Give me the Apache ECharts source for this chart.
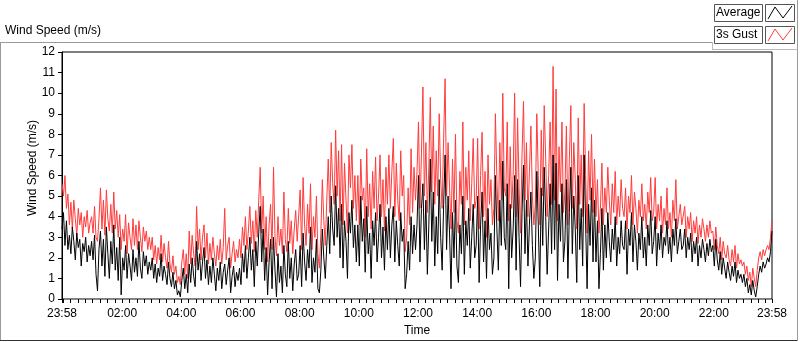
<!DOCTYPE html>
<html>
<head>
<meta charset="utf-8">
<script src="https://cdn.jsdelivr.net/npm/echarts@6/dist/echarts.min.js"></script>
<style>
  html, body { margin: 0; padding: 0; background: #fff; }
  #chart { width: 800px; height: 342px; }
</style>
</head>
<body>
<div id="chart"></div>
<script>
// one sample every 3 minutes, starting at 23:58
const stepMin = 3;
const startClock = 23 * 60 + 58;

// 3s gust (m/s), one row per hour
const gustSpeed = [
  5.6, 5.0, 6.0, 4.4, 5.1, 3.6, 4.7, 3.4, 4.8, 3.9, 3.1, 4.4, 3.6, 4.2, 3.0, 4.0, 3.5, 4.3, 3.2, 3.7,
  4.0, 3.2, 4.5, 3.0, 2.8, 3.9, 5.4, 3.4, 4.8, 3.1, 5.3, 3.9, 3.3, 4.6, 3.2, 5.2, 3.4, 4.3, 3.0, 4.1,
  2.4, 3.4, 2.8, 4.1, 2.2, 3.7, 3.0, 2.4, 3.9, 2.6, 3.6, 2.4, 3.8, 3.0, 2.3, 3.5, 2.8, 3.3, 2.4, 3.0,
  2.4, 3.0, 1.9, 2.6, 1.7, 2.5, 1.9, 3.1, 1.8, 2.7, 2.0, 1.5, 2.8, 1.7, 1.3, 2.1, 1.2, 1.6, 0.8, 1.1,
  0.7, 1.8, 2.4, 1.2, 2.2, 1.0, 3.3, 1.7, 3.1, 2.2, 1.6, 4.5, 2.4, 3.4, 1.9, 3.0, 3.6, 2.0, 3.2, 1.7,
  2.7, 1.9, 3.0, 2.2, 1.6, 2.6, 1.9, 2.9, 1.7, 2.5, 4.4, 1.9, 2.6, 3.0, 1.5, 2.2, 2.8, 1.8, 2.4, 2.0,
  2.9, 2.0, 3.5, 2.6, 4.0, 2.4, 3.3, 4.5, 2.7, 3.8, 2.3, 4.3, 3.0, 4.8, 6.4, 3.2, 5.0, 2.4, 4.0, 1.8,
  3.6, 4.6, 2.4, 6.4, 3.0, 2.1, 4.0, 2.6, 3.4, 2.2, 5.2, 2.9, 2.3, 4.4, 2.7, 3.8, 2.2, 3.4, 4.3, 2.8,
  2.8, 5.3, 2.4, 5.9, 3.6, 2.6, 4.6, 3.2, 5.6, 2.4, 4.0, 3.0, 5.0, 2.2, 1.5, 3.2, 5.8, 3.8, 2.6, 4.8,
  6.8, 4.2, 7.6, 5.6, 4.6, 8.2, 5.0, 7.2, 3.8, 7.5, 3.6, 6.6, 4.8, 3.2, 7.0, 5.4, 7.5, 4.4, 6.0, 3.8,
  6.0, 3.6, 6.8, 4.8, 5.4, 3.0, 7.3, 4.0, 5.6, 3.4, 6.2, 4.4, 6.9, 3.8, 5.0, 7.0, 4.0, 5.8, 3.3, 6.4,
  4.6, 7.0, 4.4, 6.2, 7.8, 4.0, 6.6, 4.8, 3.8, 7.2, 5.0, 6.0, 2.3, 3.0, 5.4, 3.6, 7.3, 4.2, 6.4, 4.8,
  6.2, 8.6, 4.4, 7.0, 10.3, 5.0, 7.6, 4.2, 6.4, 9.8, 5.2, 8.4, 4.6, 7.2, 5.0, 9.0, 5.8, 4.4, 7.8, 10.7,
  5.0, 7.6, 5.4, 3.4, 6.8, 4.2, 8.0, 3.8, 3.2, 6.2, 4.6, 8.6, 3.6, 6.4, 4.8, 7.2, 3.8, 5.6, 7.8, 4.4,
  4.8, 7.8, 3.4, 6.0, 8.1, 4.0, 6.2, 3.0, 7.0, 4.6, 5.8, 3.6, 4.4, 9.0, 5.8, 3.8, 7.6, 4.8, 10.0, 5.4,
  5.0, 8.6, 3.8, 7.4, 4.4, 6.0, 10.0, 4.0, 8.8, 5.4, 3.2, 7.0, 9.6, 4.8, 7.6, 4.0, 6.2, 8.4, 5.0, 3.6,
  4.6, 9.0, 6.0, 3.6, 8.2, 5.0, 9.4, 6.8, 4.0, 6.0, 8.6, 4.6, 11.3, 4.8, 10.2, 3.8, 7.4, 5.2, 8.6, 4.2,
  5.2, 8.4, 3.6, 6.8, 9.4, 4.4, 7.6, 5.8, 3.4, 8.8, 4.6, 7.0, 4.0, 9.5, 6.0, 3.2, 7.2, 4.8, 8.0, 4.2,
  6.8, 4.0, 5.8, 3.2, 4.4, 6.6, 3.6, 5.4, 4.2, 6.4, 4.8, 3.6, 5.6, 4.2, 6.2, 3.6, 5.0, 4.0, 5.8, 4.4,
  4.0, 5.4, 3.4, 5.0, 4.2, 6.0, 3.6, 5.2, 4.4, 3.2, 4.8, 4.0, 5.6, 3.8, 4.6, 3.4, 5.2, 4.2, 5.9, 3.8,
  4.2, 5.9, 3.4, 4.6, 3.8, 5.0, 3.2, 4.4, 3.6, 5.4, 3.4, 4.2, 3.0, 4.8, 3.8, 5.8, 3.4, 4.0, 4.6, 3.6,
  3.6, 4.5, 3.0, 4.0, 3.4, 4.2, 2.8, 3.8, 3.2, 4.0, 2.7, 3.6, 3.0, 3.9, 3.4, 2.8, 3.6, 3.0, 3.8, 3.2,
  3.3, 2.4, 3.5, 2.6, 2.2, 3.0, 1.9, 2.8, 2.2, 2.0, 2.6, 1.9, 1.6, 2.4, 1.8, 2.6, 1.5, 2.2, 1.7, 1.9,
  1.6, 1.8, 1.2, 1.6, 0.9, 1.3, 0.6, 1.5, 1.0, 0.6, 1.4, 2.0, 2.3, 1.9, 2.4, 2.1, 2.4, 2.6, 2.4, 3.0,
  3.8
];

// average (m/s), one row per hour
const avgSpeed = [
  3.4, 4.2, 2.6, 3.8, 2.4, 3.1, 2.2, 3.5, 2.8, 1.9, 3.2, 2.5, 2.9, 1.6, 2.7, 2.3, 3.0, 1.8, 2.6, 2.1,
  2.8, 1.9, 3.1, 1.2, 0.4, 2.4, 3.3, 1.6, 2.9, 1.1, 3.5, 2.2, 1.0, 2.8, 1.7, 3.6, 1.4, 2.5, 0.9, 3.0,
  0.2, 2.0, 1.4, 2.6, 1.0, 2.2, 1.6, 0.9, 2.4, 1.3, 2.0, 1.1, 2.8, 1.5, 1.0, 2.3, 1.6, 2.1, 1.2, 1.8,
  1.4, 2.0, 1.0, 1.7, 0.8, 1.5, 1.1, 2.2, 0.9, 1.6, 1.2, 0.7, 1.8, 1.0, 0.6, 1.3, 0.5, 0.9, 0.2, 0.4,
  0.1, 0.9, 1.5, 0.5, 1.2, 0.3, 1.7, 0.8, 2.0, 1.1, 0.6, 2.8, 1.4, 2.2, 0.9, 1.8, 2.5, 1.0, 1.9, 0.7,
  1.6, 0.8, 2.0, 1.2, 0.4, 1.5, 0.9, 1.8, 0.5, 1.3, 1.7, 0.7, 1.4, 2.0, 0.3, 1.1, 1.6, 0.6, 1.3, 0.9,
  1.5, 0.7, 2.2, 1.3, 2.6, 1.0, 2.0, 3.0, 1.4, 2.4, 0.6, 2.8, 1.6, 3.2, 4.5, 1.8, 3.4, 0.9, 2.5, 0.2,
  1.8, 2.9, 0.5, 3.0, 1.4, 0.1, 2.2, 0.8, 1.6, 0.3, 2.6, 1.2, 0.6, 2.8, 1.0, 2.0, 0.4, 1.7, 2.4, 0.9,
  1.2, 2.6, 0.6, 3.2, 1.8, 0.9, 2.4, 1.5, 3.5, 0.8, 2.0, 1.3, 2.9, 0.5, 0.3, 1.4, 3.4, 2.0, 1.0, 2.6,
  4.0, 2.2, 5.0, 3.4, 2.6, 5.5, 3.0, 4.4, 2.0, 4.6, 1.5, 3.8, 2.8, 1.0, 4.2, 3.2, 4.8, 2.5, 3.6, 1.8,
  3.6, 1.6, 5.0, 2.8, 3.9, 1.3, 4.5, 2.2, 3.2, 1.0, 3.8, 2.6, 4.2, 1.8, 3.0, 4.6, 2.0, 3.5, 1.4, 4.0,
  2.4, 4.4, 2.0, 3.6, 4.5, 1.8, 3.8, 2.6, 1.6, 4.2, 2.8, 3.4, 0.5, 1.2, 2.8, 1.4, 4.0, 2.2, 3.6, 2.4,
  3.6, 6.0, 1.8, 4.4, 5.6, 2.4, 4.8, 1.2, 3.6, 6.8, 2.8, 5.2, 1.6, 4.0, 2.2, 5.8, 3.0, 1.4, 4.6, 7.0,
  2.4, 5.0, 3.2, 0.5, 4.2, 2.0, 4.8, 1.6, 0.8, 3.6, 2.2, 5.0, 1.2, 3.8, 2.6, 4.4, 1.5, 3.0, 4.6, 2.0,
  2.6, 5.0, 0.8, 3.6, 5.2, 1.8, 3.8, 1.0, 4.4, 2.4, 3.2, 1.2, 2.0, 6.0, 3.4, 1.4, 4.8, 2.6, 6.7, 3.0,
  2.4, 5.6, 0.5, 4.6, 2.0, 3.4, 6.0, 1.4, 5.8, 3.0, 0.6, 4.2, 6.5, 2.2, 4.8, 1.6, 3.6, 5.2, 2.6, 1.0,
  2.0, 6.2, 3.6, 0.6, 5.4, 2.6, 6.4, 4.0, 1.2, 3.4, 5.6, 2.2, 7.0, 2.4, 6.6, 0.9, 4.6, 2.8, 5.6, 1.8,
  2.8, 5.8, 1.0, 4.2, 6.4, 2.2, 5.0, 3.4, 0.8, 6.0, 2.4, 4.4, 1.6, 7.0, 3.6, 0.5, 4.6, 2.6, 5.4, 1.8,
  4.8, 1.8, 3.8, 0.5, 2.2, 4.4, 1.4, 3.6, 2.0, 4.2, 2.8, 1.8, 3.4, 2.4, 4.0, 1.6, 3.0, 2.2, 3.8, 2.6,
  2.4, 3.8, 1.2, 3.4, 2.6, 4.2, 1.8, 3.6, 2.8, 1.4, 3.2, 2.4, 4.0, 2.0, 3.0, 1.6, 3.6, 2.6, 4.3, 2.2,
  2.8, 4.0, 1.6, 3.2, 2.4, 3.6, 2.0, 3.0, 2.6, 3.8, 2.2, 3.0, 1.8, 3.4, 2.6, 3.9, 2.2, 2.8, 3.4, 2.4,
  2.6, 3.4, 2.0, 3.0, 2.4, 3.2, 1.8, 2.8, 2.2, 3.0, 1.6, 2.6, 2.0, 2.9, 2.4, 1.8, 2.7, 2.1, 2.9, 2.3,
  2.6, 1.6, 2.9, 1.9, 1.4, 2.3, 1.2, 2.0, 1.5, 1.0, 1.8, 1.3, 0.9, 1.6, 1.1, 1.8, 0.8, 1.4, 1.0, 1.2,
  0.8, 1.2, 0.6, 1.0, 0.3, 0.7, 0.2, 0.9, 0.4, 0.1, 0.6, 1.2, 1.6, 1.3, 1.8, 1.5, 1.7, 2.0, 1.8, 2.3,
  3.3
];

// x axis: minutes after 23:58
const labelMinutes = [0, 122, 242, 362, 482, 602, 722, 842, 962, 1082, 1202, 1322, 1440];
const tickMinutes = [0, 2, 17, 32, 47, 62, 77, 92, 107, 122, 137, 152, 167, 182, 197, 212, 227,
  242, 257, 272, 287, 302, 317, 332, 347, 362, 377, 392, 407, 422, 437, 452, 467,
  482, 497, 512, 527, 542, 557, 572, 587, 602, 617, 632, 647, 662, 677, 692, 707,
  722, 737, 752, 767, 782, 797, 812, 827, 842, 857, 872, 887, 902, 917, 932, 947,
  962, 977, 992, 1007, 1022, 1037, 1052, 1067, 1082, 1097, 1112, 1127, 1142, 1157, 1172, 1187,
  1202, 1217, 1232, 1247, 1262, 1277, 1292, 1307, 1322, 1337, 1352, 1367, 1382, 1397, 1412, 1427, 1440];

function clockText(m) {
  const c = (startClock + m) % 1440;
  const h = Math.floor(c / 60), mm = c % 60;
  return String(h).padStart(2, "0") + ":" + String(mm).padStart(2, "0");
}

const font = "Liberation Sans";
const txt = "#000";

const chart = echarts.init(document.getElementById("chart"), null, { renderer: "canvas" });

const option = {
  animation: false,
  backgroundColor: "#fff",
  textStyle: { fontFamily: font },
  grid: {
    left: 62, right: 28, top: 52, bottom: 40,
    show: true, borderColor: "#000", borderWidth: 1, backgroundColor: "#fff"
  },
  xAxis: {
    type: "value",
    min: 0,
    max: 1440,
    name: "Time",
    nameLocation: "middle",
    nameGap: 26,
    nameTextStyle: { color: txt, fontSize: 12, fontFamily: font },
    axisLine: { show: true, onZero: false, lineStyle: { color: "#888", width: 1 } },
    axisTick: { show: true, length: 4, customValues: tickMinutes, lineStyle: { color: "#000" } },
    axisLabel: {
      customValues: labelMinutes,
      formatter: (v) => clockText(v),
      color: txt, fontSize: 12, fontFamily: font, margin: 9
    },
    splitLine: { show: false }
  },
  yAxis: {
    type: "value",
    min: 0,
    max: 12,
    interval: 1,
    axisLine: { show: true, lineStyle: { color: "#000" } },
    axisTick: { show: true, length: 4, lineStyle: { color: "#000" } },
    axisLabel: { color: txt, fontSize: 12, fontFamily: font, margin: 7 },
    splitLine: { show: false }
  },
  series: [
    {
      name: "3s Gust",
      type: "line",
      data: gustSpeed.map((v, i) => [i * stepMin, v]),
      showSymbol: false,
      sampling: false,
      lineStyle: { color: "#ff3b3b", width: 1 },
      itemStyle: { color: "#ff3b3b" },
      z: 2
    },
    {
      name: "Average",
      type: "line",
      data: avgSpeed.map((v, i) => [i * stepMin, v]),
      showSymbol: false,
      sampling: false,
      lineStyle: { color: "#000", width: 1 },
      itemStyle: { color: "#000" },
      z: 3
    }
  ],
  graphic: [
    // outer frame
    { type: "line", shape: { x1: 0, y1: 42.5, x2: 712, y2: 42.5 }, style: { stroke: "#9a9a9a", lineWidth: 1 } },
    { type: "line", shape: { x1: 0.5, y1: 42, x2: 0.5, y2: 341 }, style: { stroke: "#9a9a9a", lineWidth: 1 } },
    { type: "line", shape: { x1: 0, y1: 340.5, x2: 798, y2: 340.5 }, style: { stroke: "#333", lineWidth: 1 } },
    { type: "line", shape: { x1: 797.5, y1: 0, x2: 797.5, y2: 341 }, style: { stroke: "#9a9a9a", lineWidth: 1 } },
    { type: "line", shape: { x1: 712.5, y1: 42, x2: 712.5, y2: 49.5 }, style: { stroke: "#bbb", lineWidth: 1 } },
    { type: "line", shape: { x1: 712, y1: 49.5, x2: 798, y2: 49.5 }, style: { stroke: "#bbb", lineWidth: 1 } },
    // title and y axis name
    { type: "text", left: 5, top: 25, style: { text: "Wind Speed (m/s)", fill: txt, font: "12px " + font } },
    { type: "text", x: 33, y: 168, rotation: Math.PI / 2,
      style: { text: "Wind Speed (m/s)", fill: txt, font: "12px " + font, align: "center", verticalAlign: "middle" } },
    // legend
    { type: "rect", shape: { x: 714.5, y: 4.5, width: 48, height: 17 }, style: { fill: "#fff", stroke: "#555", lineWidth: 1 } },
    { type: "text", x: 716, y: 13, style: { text: "Average", fill: txt, font: "12px " + font, verticalAlign: "middle" } },
    { type: "rect", shape: { x: 765.5, y: 4.5, width: 29, height: 17 }, style: { fill: "#fff", stroke: "#555", lineWidth: 1 } },
    { type: "polyline", shape: { points: [[768, 19], [775, 7], [783, 18], [792, 6]] }, style: { stroke: "#000", lineWidth: 1, fill: null } },
    { type: "rect", shape: { x: 714.5, y: 26.5, width: 48, height: 17 }, style: { fill: "#fff", stroke: "#555", lineWidth: 1 } },
    { type: "text", x: 716, y: 35, style: { text: "3s Gust", fill: txt, font: "12px " + font, verticalAlign: "middle" } },
    { type: "rect", shape: { x: 765.5, y: 26.5, width: 29, height: 17 }, style: { fill: "#fff", stroke: "#555", lineWidth: 1 } },
    { type: "polyline", shape: { points: [[768, 41], [775, 29], [783, 40], [792, 28]] }, style: { stroke: "#ff3b3b", lineWidth: 1, fill: null } }
  ]
};

chart.setOption(option);
</script>
</body>
</html>
